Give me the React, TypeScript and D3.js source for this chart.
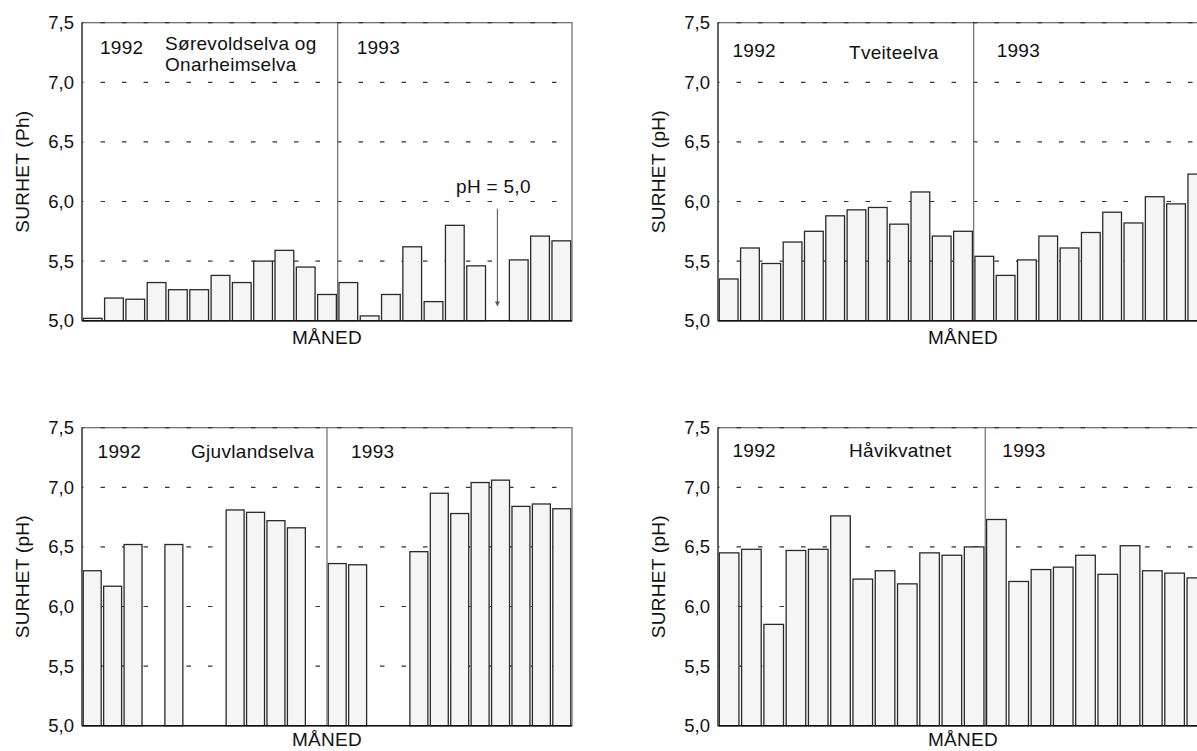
import React, { useEffect, useRef } from 'react';
import * as d3 from 'd3';

// monthly pH readings, null = no sample that month
const sorevold1992 = [5.02, 5.19, 5.18, 5.32, 5.26, 5.26, 5.38, 5.32, 5.5, 5.59, 5.45, 5.22];
const sorevold1993 = [5.32, 5.04, 5.22, 5.62, 5.16, 5.8, 5.46, null, 5.51, 5.71, 5.67];
const tveite1992 = [5.35, 5.61, 5.48, 5.66, 5.75, 5.88, 5.93, 5.95, 5.81, 6.08, 5.71, 5.75];
const tveite1993 = [5.54, 5.38, 5.51, 5.71, 5.61, 5.74, 5.91, 5.82, 6.04, 5.98, 6.23];
const gjuv1992 = [6.3, 6.17, 6.52, null, 6.52, null, null, 6.81, 6.79, 6.72, 6.66, null];
const gjuv1993 = [6.36, 6.35, null, null, 6.46, 6.95, 6.78, 7.04, 7.06, 6.84, 6.86, 6.82];
const havik1992 = [6.45, 6.48, 5.85, 6.47, 6.48, 6.76, 6.23, 6.3, 6.19, 6.45, 6.43, 6.5];
const havik1993 = [6.73, 6.21, 6.31, 6.33, 6.43, 6.27, 6.51, 6.3, 6.28, 6.24];

const yTicks = [5.0, 5.5, 6.0, 6.5, 7.0, 7.5];
const years = ['1992', '1993'];

const FONT = '"Liberation Sans", Arial, sans-serif';
const FS = 19;
const PW = 490;
const PH = 298;

type Panel = {
  v92: (number | null)[];
  v93: (number | null)[];
  title: string[];
  yLabel: string;
  left: number;
  top: number;
  yearDx: [number, number];
  yearDy: number;
  titleDx: number;
  titleDy: number;
  xLabelDy: number;
  arrow?: boolean;
};

const panels: Panel[] = [
  {
    v92: sorevold1992, v93: sorevold1993, title: ['Sørevoldselva og', 'Onarheimselva'],
    yLabel: 'SURHET (Ph)', left: 82, top: 22.7, yearDx: [18, 19], yearDy: 31.6,
    titleDx: 83, titleDy: 26.8, xLabelDy: 23.3, arrow: true,
  },
  {
    v92: tveite1992, v93: tveite1993, title: ['Tveiteelva'],
    yLabel: 'SURHET (pH)', left: 718, top: 22.7, yearDx: [14.5, 23], yearDy: 34.5,
    titleDx: 131, titleDy: 36.6, xLabelDy: 23.3,
  },
  {
    v92: gjuv1992, v93: gjuv1993, title: ['Gjuvlandselva'],
    yLabel: 'SURHET (pH)', left: 82, top: 427.7, yearDx: [15.6, 24], yearDy: 30.3,
    titleDx: 109, titleDy: 30.3, xLabelDy: 20.3,
  },
  {
    v92: havik1992, v93: havik1993, title: ['Håvikvatnet'],
    yLabel: 'SURHET (pH)', left: 718, top: 427.7, yearDx: [14.5, 17], yearDy: 29.3,
    titleDx: 131, titleDy: 29.3, xLabelDy: 20.3,
  },
];

const fmt = (d: number) => d3.format('.1f')(d).replace('.', ',');

function label(g: any, x: number, y: number, t: string, anchor = 'start') {
  return g
    .append('text')
    .attr('x', x)
    .attr('y', y)
    .attr('text-anchor', anchor)
    .attr('font-size', FS)
    .attr('font-family', FONT)
    .attr('letter-spacing', 0.3)
    .attr('fill', '#111')
    .text(t);
}

function drawPanel(svg: any, p: Panel) {
  const slots = [
    ...p.v92.map((v, i) => ({ key: `1992-${i + 1}`, v })),
    ...p.v93.map((v, i) => ({ key: `1993-${i + 1}`, v })),
  ];
  const x = d3
    .scaleBand()
    .domain(slots.map((d) => d.key))
    .range([p.left, p.left + PW])
    .paddingInner(0.12)
    .paddingOuter(0.06);
  const y = d3.scaleLinear().domain([5, 7.5]).range([p.top + PH, p.top]);
  const g = svg.append('g');

  // dashed grid behind the bars
  g.selectAll('line.grid')
    .data(yTicks.slice(1, -1))
    .enter()
    .append('line')
    .attr('x1', p.left)
    .attr('x2', p.left + PW)
    .attr('y1', (d: number) => y(d))
    .attr('y2', (d: number) => y(d))
    .attr('stroke', '#333')
    .attr('stroke-width', 1.2)
    .attr('stroke-dasharray', '4.5,17')
    .attr('stroke-dashoffset', 3);

  g.selectAll('rect.bar')
    .data(slots.filter((d) => d.v !== null))
    .enter()
    .append('rect')
    .attr('x', (d: any) => x(d.key))
    .attr('y', (d: any) => y(d.v))
    .attr('width', x.bandwidth())
    .attr('height', (d: any) => y(5) - y(d.v))
    .attr('fill', '#f5f5f5')
    .attr('stroke', '#2a2a2a')
    .attr('stroke-width', 1.3);

  // year divider
  const divX = p.left + p.v92.length * x.step();
  g.append('line')
    .attr('x1', divX).attr('x2', divX)
    .attr('y1', p.top).attr('y2', p.top + PH)
    .attr('stroke', '#777')
    .attr('stroke-width', 1.3);

  // frame
  g.append('rect')
    .attr('x', p.left).attr('y', p.top)
    .attr('width', PW).attr('height', PH)
    .attr('fill', 'none')
    .attr('stroke', '#666')
    .attr('stroke-width', 1.2);
  g.append('line')
    .attr('x1', p.left).attr('x2', p.left + PW)
    .attr('y1', p.top).attr('y2', p.top)
    .attr('stroke', '#333')
    .attr('stroke-width', 1.2)
    .attr('stroke-dasharray', '4.5,17')
    .attr('stroke-dashoffset', 3);
  g.append('line')
    .attr('x1', p.left).attr('x2', p.left)
    .attr('y1', p.top).attr('y2', p.top + PH)
    .attr('stroke', '#444').attr('stroke-width', 1.3);
  g.append('line')
    .attr('x1', p.left).attr('x2', p.left + PW)
    .attr('y1', p.top + PH).attr('y2', p.top + PH)
    .attr('stroke', '#111').attr('stroke-width', 1.5);

  const axis = g
    .append('g')
    .attr('transform', `translate(${p.left},0)`)
    .call(d3.axisLeft(y).tickValues(yTicks).tickSize(0).tickPadding(8).tickFormat(fmt as any));
  axis.select('.domain').remove();
  axis.selectAll('text').attr('font-size', 18.5).attr('font-family', FONT).attr('fill', '#111');

  // axis titles
  label(g, p.left + PW / 2, p.top + PH + p.xLabelDy, 'MÅNED', 'middle');
  label(g, 0, 0, p.yLabel, 'middle').attr(
    'transform',
    `translate(${p.left - 53.5},${p.top + PH / 2}) rotate(-90)`,
  );

  // year labels + station name
  [p.left + p.yearDx[0], divX + p.yearDx[1]].forEach((xx, i) => {
    label(g, xx, p.top + p.yearDy, years[i]);
  });
  p.title.forEach((t, i) => {
    label(g, p.left + p.titleDx, p.top + p.titleDy + i * 21.7, t);
  });

  if (p.arrow) {
    const gap = slots.find((d) => d.key.startsWith('1993') && d.v === null);
    if (gap) {
      const ax = (x(gap.key) as number) + x.bandwidth() / 2;
      const tipY = y(5.12);
      g.append('line')
        .attr('x1', ax).attr('x2', ax)
        .attr('y1', y(5.94)).attr('y2', tipY - 3)
        .attr('stroke', '#666').attr('stroke-width', 1.2);
      g.append('path')
        .attr('d', `M${ax - 2.5},${tipY - 5}L${ax + 2.5},${tipY - 5}L${ax},${tipY}Z`)
        .attr('fill', '#555');
      label(g, ax - 4, y(6.0) - 8.5, 'pH = 5,0', 'middle');
    }
  }
}

const App = () => {
  const chartRef = useRef<SVGSVGElement>(null);

  useEffect(() => {
    const svg = d3.select(chartRef.current);
    svg.selectAll('*').remove();
    panels.forEach((p) => drawPanel(svg, p));
  }, []);

  return (
    <svg
      ref={chartRef}
      width={1197}
      height={751}
      style={{ position: 'absolute', left: 0, top: 0, background: '#fff' }}
    />
  );
};

export default App;
